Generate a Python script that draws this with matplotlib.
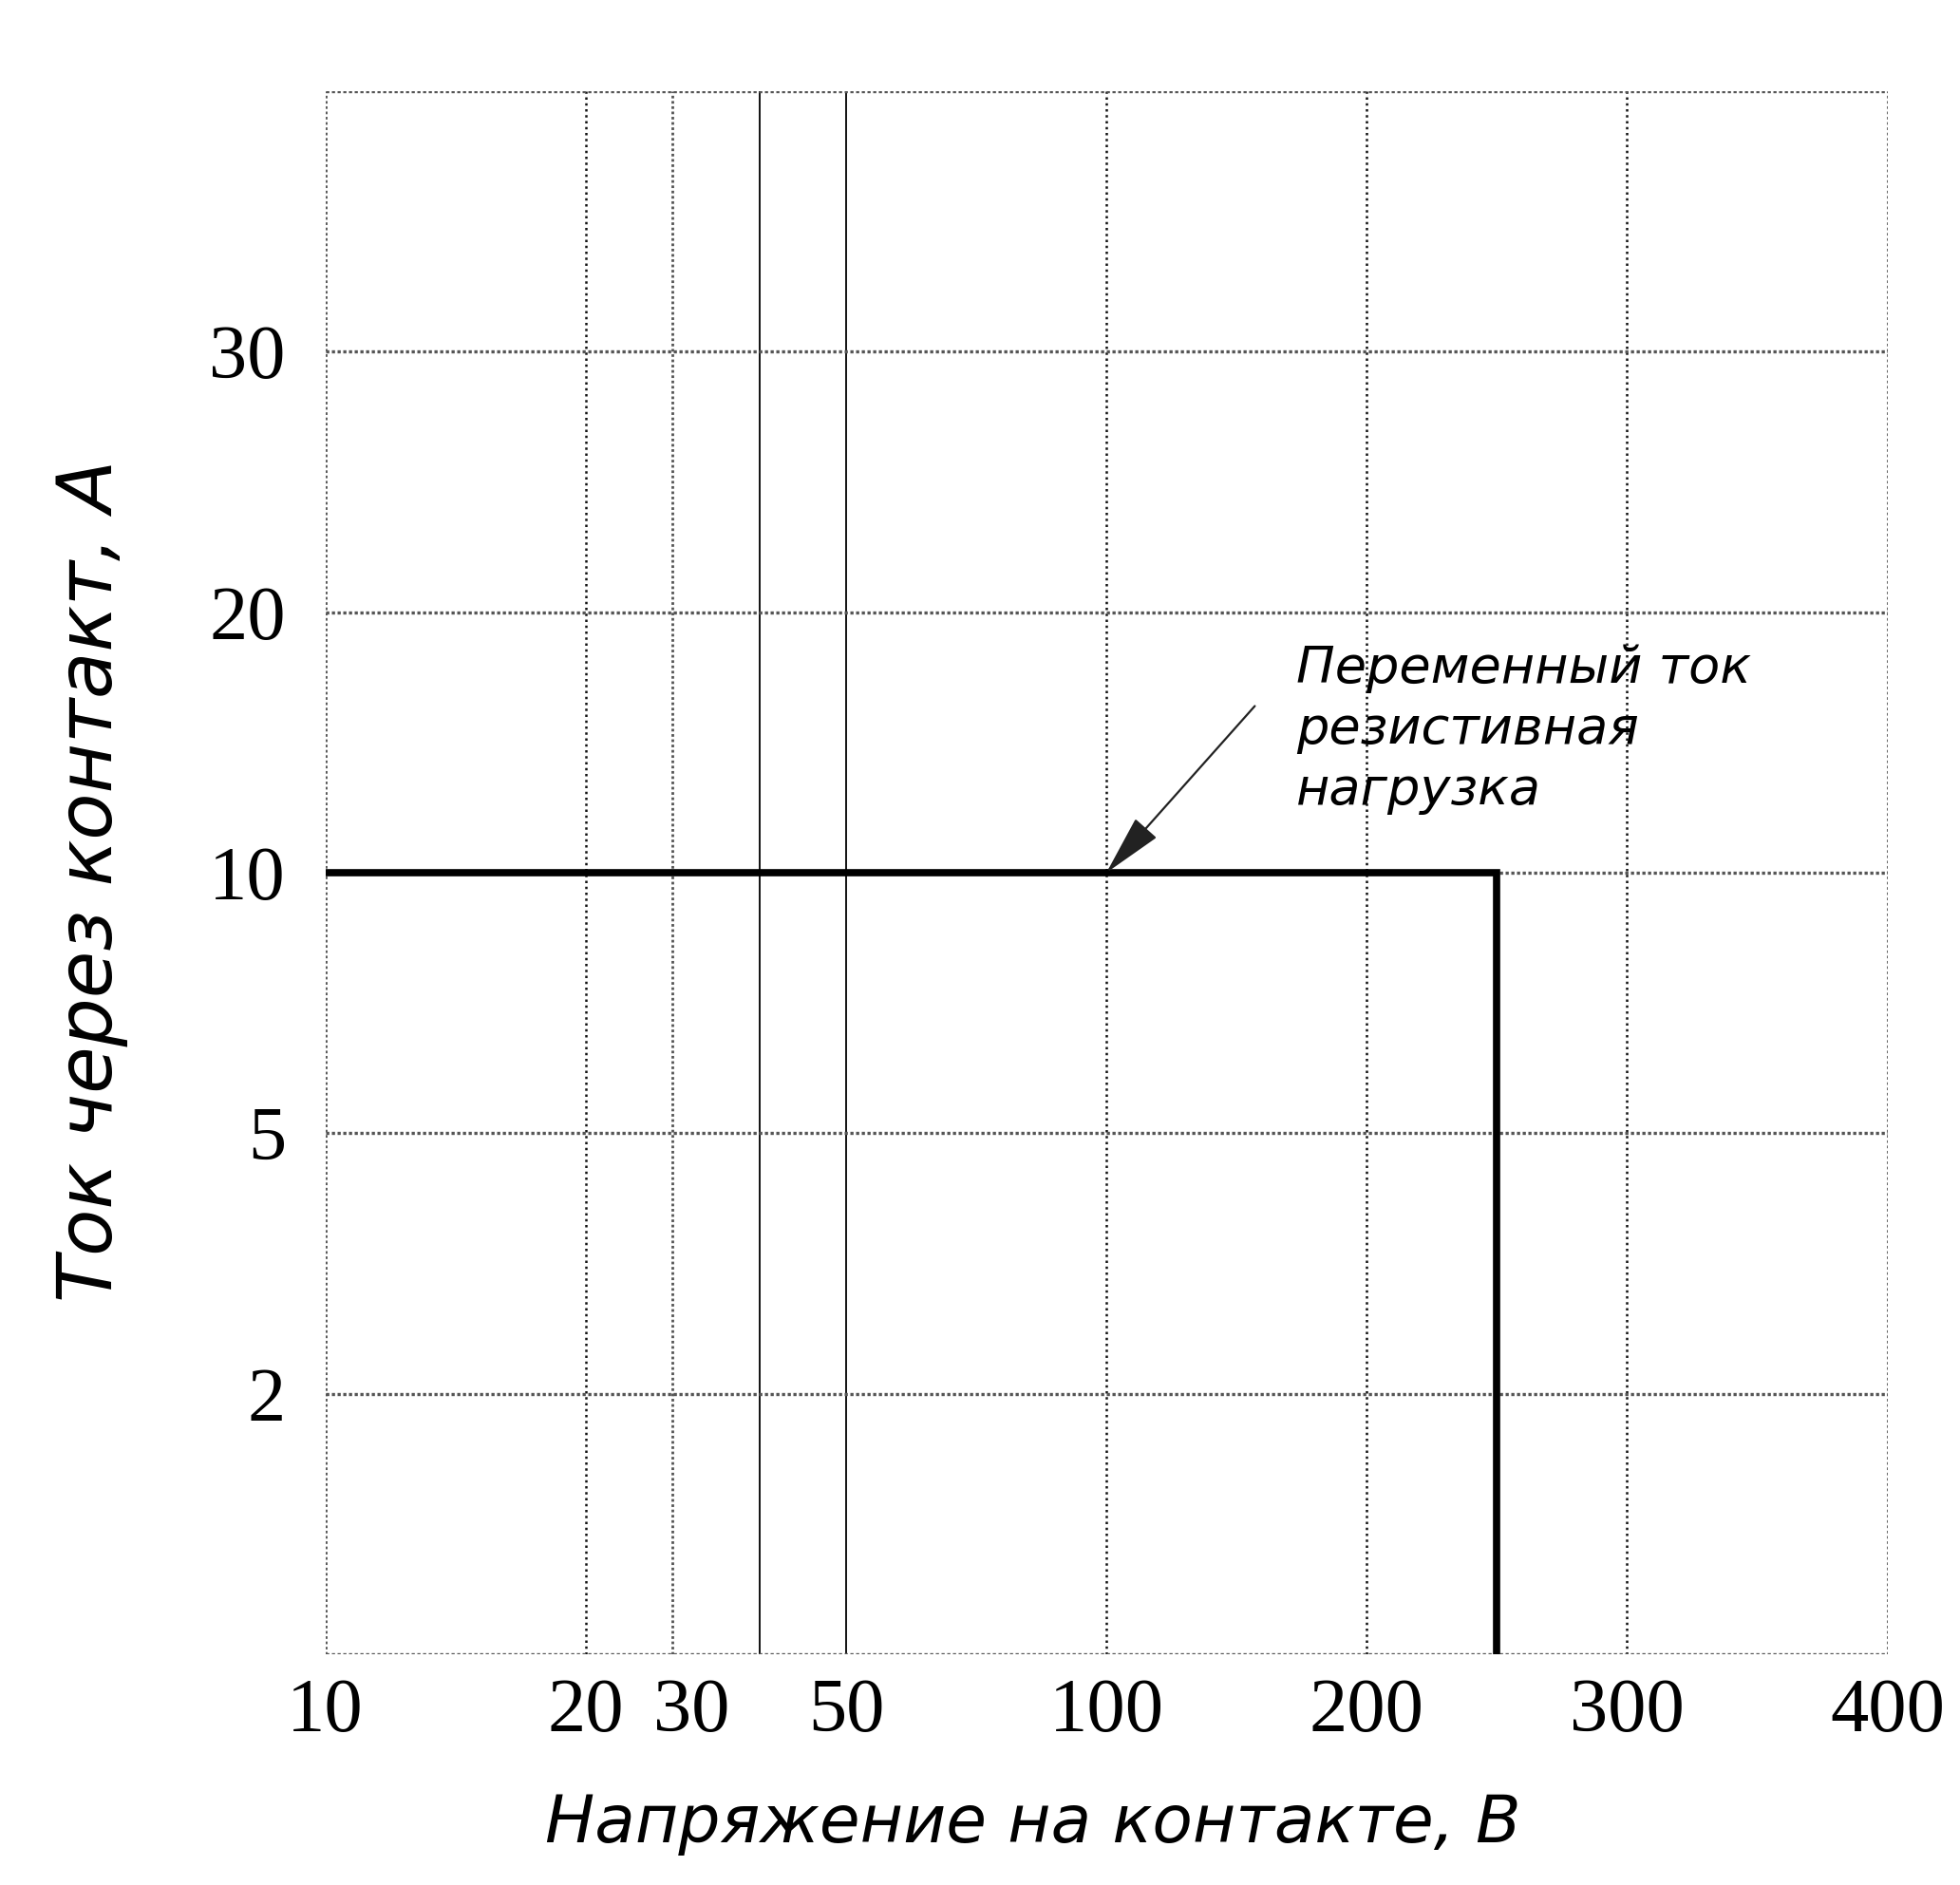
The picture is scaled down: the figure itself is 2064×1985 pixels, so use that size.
import numpy as np
import matplotlib.pyplot as plt
from matplotlib.transforms import ScaledTranslation

# shkala: nelineinaya, opornye tochki idut s ravnym shagom
x_anchors = [10, 20, 50, 100, 200, 300, 400]
y_anchors = [0, 2, 5, 10, 20, 30, 40]

x_grid = [10, 20, 30, 40, 50, 100, 200, 300, 400]
x_labels = [10, 20, 30, 50, 100, 200, 300, 400]
y_grid = [0, 2, 5, 10, 20, 30, 40]
y_labels = [2, 5, 10, 20, 30]

# granica: peremennyi tok, rezistivnaya nagruzka
napryazhenie = [10, 250, 250]
tok = [10, 10, 0]


def make_scale(anchors):
    idx = np.arange(len(anchors), dtype=float)
    fwd = lambda v: np.interp(v, anchors, idx)
    inv = lambda p: np.interp(p, idx, anchors)
    return fwd, inv


fig = plt.figure(figsize=(20.64, 19.85), dpi=100)
ax = fig.add_axes([0.166, 0.1224, 0.797, 0.8292])

ax.set_xscale('function', functions=make_scale(x_anchors))
ax.set_yscale('function', functions=make_scale(y_anchors))
ax.set_xlim(10, 400)
ax.set_ylim(0, 40)

# setka
for v in x_grid:
    if v in (40, 50):
        ax.axvline(v, color='#111111', lw=1.4, ls='-', zorder=1)
    elif v in (20, 100, 200, 300):
        ax.axvline(v, color='#111111', lw=1.8, ls=(0, (1, 1.5)), zorder=1)
    else:
        ax.axvline(v, color='#555555', lw=2.0, ls=(0, (1, 1)), zorder=1)
for v in y_grid:
    ax.axhline(v, color='#555555', lw=2.4, ls=(0, (1, 0.8)), zorder=1)

for s in ax.spines.values():
    s.set_visible(False)

ax.plot(napryazhenie, tok, color='black', lw=5.5, solid_joinstyle='miter', zorder=3)

ax.set_xticks(x_labels)
ax.set_xticklabels([str(v) for v in x_labels])
ax.set_yticks(y_labels)
ax.set_yticklabels([str(v) for v in y_labels])
ax.minorticks_off()
ax.tick_params(length=0, labelsize=58)
for t in ax.get_xticklabels() + ax.get_yticklabels():
    t.set_fontfamily('Liberation Serif')
ax.tick_params(axis='x', pad=18)
ax.tick_params(axis='y', pad=30)

# podpis 30 chut sdvinuta vpravo
lbl30 = ax.get_xticklabels()[2]
lbl30.set_transform(lbl30.get_transform() + ScaledTranslation(0.2, 0, fig.dpi_scale_trans))

ax.set_xlabel('Напряжение на контакте, В', fontsize=50, style='italic',
              fontfamily='DejaVu Sans')
ax.xaxis.set_label_coords(0.453, -0.088)
ax.set_ylabel('Ток через контакт, А', fontsize=58, style='italic',
              fontfamily='DejaVu Sans')
ax.yaxis.set_label_coords(-0.126, 0.495)

ax.text(173, 18.8, 'Переменный ток\nрезистивная\nнагрузка', fontsize=39,
        style='italic', fontfamily='DejaVu Sans', va='top', ha='left',
        linespacing=1.3, zorder=4)
ax.annotate('', xy=(100, 10), xytext=(157, 16.4),
            arrowprops=dict(arrowstyle='-|>,head_length=1.7,head_width=0.4',
                            color='#222222', lw=1.6, mutation_scale=24,
                            shrinkA=0, shrinkB=0),
            zorder=4)

fig.savefig('out.png', dpi=100)
